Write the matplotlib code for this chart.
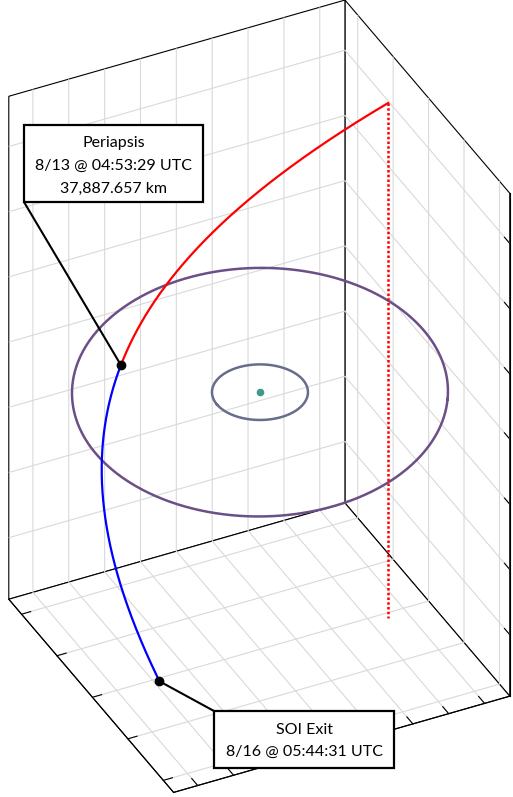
import numpy as np
import matplotlib
matplotlib.use("Agg")
import matplotlib.pyplot as plt
from matplotlib.patches import Rectangle
from matplotlib.ticker import NullFormatter
from mpl_toolkits.mplot3d import proj3d

plt.rcParams['font.family'] = ['Lato', 'DejaVu Sans']

# axis limits and ticks (km, body-centred frame)
x_lim = (-47025, 46725)
y_lim = (-47200, 45800)
z_lim = (-78870, 75400)
x_ticks = np.arange(-40000, 40001, 10000)
y_ticks = np.arange(-40000, 40001, 20000)
z_ticks = np.arange(-60000, 60001, 20000)

# moon orbits
mun_radius = 12000
minmus_radius = 47000
minmus_inc = 6.0
minmus_lan = 150.0

# flyby trajectory (hyperbolic elements)
peri_radius = 37887.657
traj_ecc = 1.152
traj_inc = 85.650
traj_lan = 166.795
traj_argp = 159.368
nu_start = -92.761
nu_exit = 91.912

peri_label = ['Periapsis', '8/13 @ 04:53:29 UTC', '37,887.657 km']
exit_label = ['SOI Exit', '8/16 @ 05:44:31 UTC']


def rot(inc, lan, argp):
    i, o, w = np.radians([inc, lan, argp])

    def rz(a):
        return np.array([[np.cos(a), -np.sin(a), 0], [np.sin(a), np.cos(a), 0], [0, 0, 1]])
    rx = np.array([[1, 0, 0], [0, np.cos(i), -np.sin(i)], [0, np.sin(i), np.cos(i)]])
    return rz(o) @ rx @ rz(w)


def conic(rp, ecc, inc, lan, argp, nu_deg):
    nu = np.radians(np.atleast_1d(nu_deg))
    r = rp * (1 + ecc) / (1 + ecc * np.cos(nu))
    pf = np.vstack([r * np.cos(nu), r * np.sin(nu), np.zeros_like(nu)])
    return rot(inc, lan, argp) @ pf


W, H = 513, 797
fig = plt.figure(figsize=(W / 100, H / 100), dpi=100)
ax = fig.add_axes([-150 / W, -8.5 / H, H / W, 1.0], projection='3d', proj_type='ortho')
ax.view_init(elev=35.4, azim=63.7)
ax.set_xlim(x_lim)
ax.set_ylim(y_lim)
ax.set_zlim(z_lim)
ax.set_box_aspect((np.ptp(x_lim), np.ptp(y_lim), np.ptp(z_lim)), zoom=0.9893)
ax.set_xticks(x_ticks)
ax.set_yticks(y_ticks)
ax.set_zticks(z_ticks)
for axis, fac in ((ax.xaxis, 0.45), (ax.yaxis, 0.34), (ax.zaxis, 0.4)):
    axis.set_major_formatter(NullFormatter())
    axis.set_pane_color((1, 1, 1, 1))
    axis.pane.set_edgecolor('black')
    axis.pane.set_linewidth(0.8)
    axis.pane.set_closed(True)
    axis._axinfo['grid'].update({'color': (0.85, 0.85, 0.85, 1), 'linewidth': 0.8})
    axis._axinfo['tick']['inward_factor'] = 0.0
    axis._axinfo['tick']['outward_factor'] = fac
    axis.line.set_linewidth(0.8)
ax.xaxis.set_ticks_position('lower')
ax.yaxis.set_ticks_position('lower')
ax.zaxis.set_ticks_position('upper')

mun = conic(mun_radius, 0, 0, 0, 0, np.linspace(0, 360, 361))
minmus = conic(minmus_radius, 0, minmus_inc, minmus_lan, 0, np.linspace(0, 360, 721))
el = (peri_radius, traj_ecc, traj_inc, traj_lan, traj_argp)
inbound = conic(*el, np.linspace(nu_start, 0, 400))
outbound = conic(*el, np.linspace(0, nu_exit, 400))
peri = inbound[:, -1]
exitp = outbound[:, -1]
start = inbound[:, 0]

ax.plot(*minmus, color='#6b4f87', lw=1.8)
ax.plot(*mun, color='#666e8c', lw=1.8)
ax.plot([0], [0], [0], 'o', color='#3f9a8c', ms=4.5)
ax.plot(*inbound, color='red', lw=1.6)
ax.plot(*outbound, color='blue', lw=1.6)
ax.plot([start[0], start[0]], [start[1], start[1]], [start[2], z_lim[0]],
        color='red', lw=1.8, linestyle=(0, (1.0, 0.9)))
ax.plot([peri[0]], [peri[1]], [peri[2]], 'o', color='black', ms=6)
ax.plot([exitp[0]], [exitp[1]], [exitp[2]], 'o', color='black', ms=6)

# callout boxes (figure pixels, origin bottom-left)
M = ax.get_proj()
for point, lines, box, corner, baselines in (
        (peri, peri_label, (24, 595, 179, 77), (24, 595), (146.5, 169.5, 192.5)),
        (exitp, exit_label, (214, 29, 180, 57), (214, 86), (733.5, 756.0))):
    xs, ys, _ = proj3d.proj_transform(point[0], point[1], point[2], M)
    ax.annotate('', xy=(xs, ys), xycoords='data', xytext=corner, textcoords='figure pixels',
                arrowprops=dict(arrowstyle='-', color='black', lw=1.5, shrinkA=0, shrinkB=0))
    fig.add_artist(Rectangle((box[0] / W, box[1] / H), box[2] / W, box[3] / H,
                             transform=fig.transFigure, fc='white', ec='black', lw=1.6, zorder=5))
    for text, b in zip(lines, baselines):
        fig.text((box[0] + box[2] / 2) / W, (H - b) / H, text, ha='center', va='baseline',
                 fontsize=11.5, color='black', zorder=6)

fig.savefig('out.png', dpi=100)
